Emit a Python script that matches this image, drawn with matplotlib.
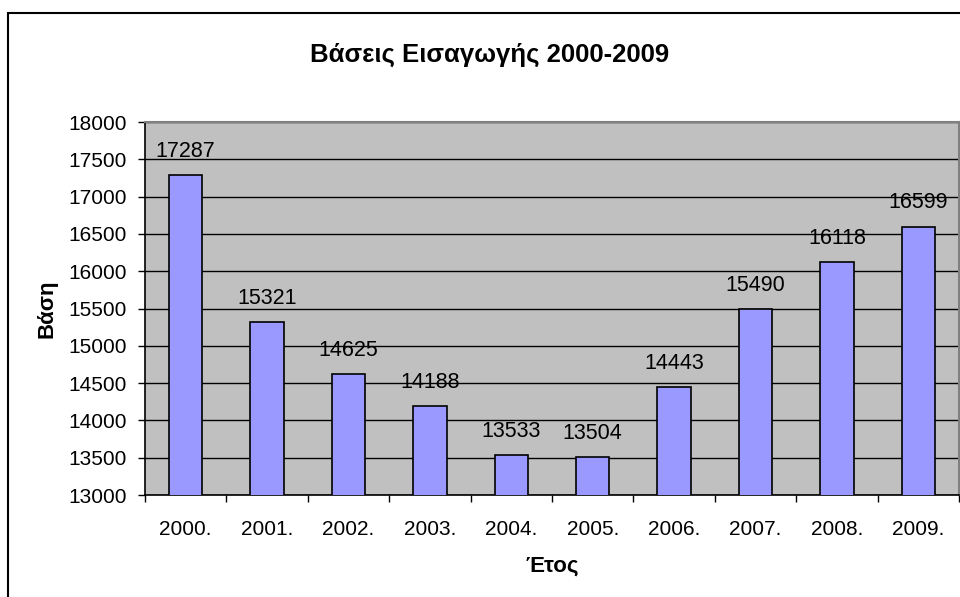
import numpy as np
import matplotlib
matplotlib.use("Agg")
import matplotlib.pyplot as plt
from matplotlib.patches import Rectangle

# ── Data ──────────────────────────────────────────────────────────────────────
years = ["2000.", "2001.", "2002.", "2003.", "2004.",
         "2005.", "2006.", "2007.", "2008.", "2009."]
scores = [17287, 15321, 14625, 14188, 13533, 13504, 14443, 15490, 16118, 16599]

# ── Style ─────────────────────────────────────────────────────────────────────
BAR = "#9999FF"
PLOT_BG = "#C0C0C0"
plt.rcParams["font.family"] = ["Liberation Sans", "DejaVu Sans"]

fig = plt.figure(figsize=(9.6, 5.97), dpi=100)

# outer chart-area border (cropped on the right/bottom)
fig.patches.append(Rectangle((8 / 960, -0.2), 1.2, 1.2 - 13 / 597,
                             transform=fig.transFigure, fill=False,
                             edgecolor="black", linewidth=1.5))

ax = fig.add_axes([145 / 960, 1 - 495 / 597, 814 / 960, 373 / 597])
ax.set_facecolor(PLOT_BG)

x = np.arange(len(years))
ax.bar(x, scores, width=0.41, color=BAR, edgecolor="black", linewidth=1.2, zorder=3)

for xi, v in zip(x, scores):
    ax.annotate(f"{v}", (xi, v), xytext=(0, 13), textcoords="offset points",
                ha="center", va="baseline", fontsize=15.5, zorder=4)

ax.set_ylim(13000, 18000)
ax.set_xlim(-0.5, len(years) - 0.5)
ax.set_yticks(np.arange(13000, 18001, 500))
ax.yaxis.grid(True, color="black", linewidth=1)
ax.set_axisbelow(True)
ax.tick_params(axis="y", direction="out", length=5, width=1, pad=8, labelsize=15)

ax.set_xticks(x)
ax.set_xticklabels(years)
ax.set_xticks(np.arange(-0.5, len(years)), minor=True)
ax.tick_params(axis="x", which="major", length=0, pad=18, labelsize=15)
ax.tick_params(axis="x", which="minor", direction="out", length=5, width=1)

for side in ["top", "right"]:
    ax.spines[side].set_color("#808080")
    ax.spines[side].set_linewidth(1.5)
ax.spines["left"].set_linewidth(1.2)
ax.spines["bottom"].set_linewidth(1.2)

ax.set_xlabel("Έτος", fontsize=16, fontweight="bold", labelpad=12)
ax.set_ylabel("Βάση", fontsize=16, fontweight="bold", labelpad=8)

fig.text(0.51, 1 - 55 / 597, "Βάσεις Εισαγωγής 2000-2009",
         ha="center", va="center", fontsize=18.5, fontweight="bold")

fig.savefig("out.png", dpi=100)
